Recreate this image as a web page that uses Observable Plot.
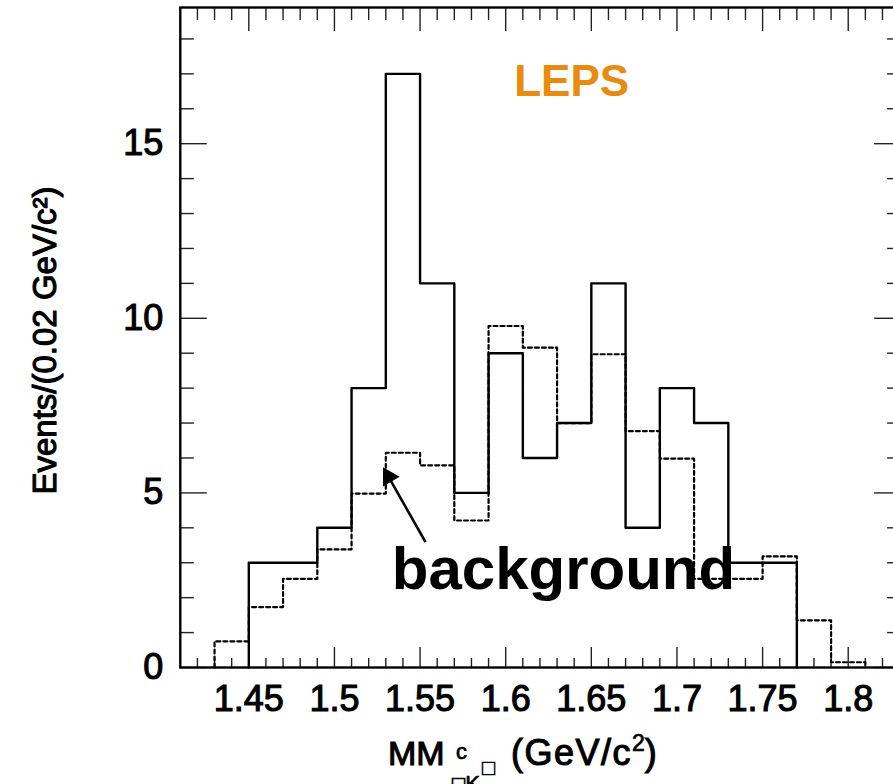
<!DOCTYPE html>
<html><head><meta charset="utf-8">
<script src="https://cdn.jsdelivr.net/npm/d3@7"></script>
<script src="https://cdn.jsdelivr.net/npm/@observablehq/plot@0.6"></script>
<style>
html,body{margin:0;padding:0;background:#fff;overflow:hidden;}
#chart{width:893px;height:784px;overflow:hidden;position:relative;}
#chart svg{max-width:none !important;}
</style></head><body><div id="chart"></div>
<script>
// ---- data ----
const binWidth = 0.02;
const dataBinLow = [1.45,1.47,1.49,1.51,1.53,1.55,1.57,1.59,1.61,1.63,1.65,1.67,1.69,1.71,1.73,1.75];
const dataCounts = [3,3,4,8,17,11,5,9,6,7,11,4,8,7,3,3];
const bgBinLow = [1.43,1.45,1.47,1.49,1.51,1.53,1.55,1.57,1.59,1.61,1.63,1.65,1.67,1.69,1.71,1.73,1.75,1.77,1.79];
const bgCounts = [0.75,1.73,2.54,3.38,4.98,6.15,5.79,4.21,9.78,9.16,7.0,8.97,6.77,5.98,2.54,2.54,3.18,1.35,0.15];

const xMajorTicks = [1.45,1.5,1.55,1.6,1.65,1.7,1.75,1.8];
const xMinorTicks = [1.42,1.43,1.44,1.46,1.47,1.48,1.49,1.51,1.52,1.53,1.54,1.56,1.57,1.58,1.59,1.61,1.62,1.63,1.64,1.66,1.67,1.68,1.69,1.71,1.72,1.73,1.74,1.76,1.77,1.78,1.79,1.81,1.82];
const yMajorTicks = [0,5,10,15];
const yMinorTicks = [1,2,3,4,6,7,8,9,11,12,13,14,16,17,18];

const xDomain = [1.41, 1.83];
const yDomain = [0, 18.9];

// annotations (data coordinates)
const lepsLabel = [{x: 1.6385, y: 16.76, text: "LEPS"}];
const bgLabel = [{x: 1.5335, y: 2.26, text: "background"}];
const arrowShaft = [{x1: 1.5532, y1: 3.59, x2: 1.5316, y2: 5.46}];
const arrowHead = [{x: 1.5316, y: 5.46}];

function steps(lows, counts) {
  const pts = [{x: lows[0], y: 0}];
  lows.forEach((x, i) => pts.push({x, y: counts[i]}));
  pts.push({x: lows[lows.length - 1] + binWidth, y: 0});
  return pts;
}

const FONT = "'Liberation Sans', Arial, Helvetica, sans-serif";
const blank = () => "";
const heavy = {stroke: "black", strokeWidth: 1.1};

const chart = Plot.plot({
  width: 905, height: 784,
  marginLeft: 179.8, marginRight: 5.9, marginTop: 7, marginBottom: 117,
  style: {fontFamily: FONT, fontSize: "36px", background: "white", color: "black", maxWidth: "none"},
  x: {domain: xDomain},
  y: {domain: yDomain},
  marks: [
    // tick marks (inward)
    Plot.axisX(xMinorTicks, {anchor: "bottom", tickSize: -9, tickFormat: blank, label: null, stroke: "#222", strokeWidth: 1.4}),
    Plot.axisX(xMajorTicks, {anchor: "bottom", tickSize: -20, tickFormat: blank, label: null, stroke: "#222", strokeWidth: 1.4}),
    Plot.axisX(xMinorTicks, {anchor: "top", tickSize: -12, tickFormat: blank, label: null, stroke: "#222", strokeWidth: 1.4}),
    Plot.axisX(xMajorTicks, {anchor: "top", tickSize: -23, tickFormat: blank, label: null, stroke: "#222", strokeWidth: 1.4}),
    Plot.axisY(yMinorTicks, {anchor: "left", tickSize: -14, tickFormat: blank, label: null, stroke: "#222", strokeWidth: 1.4}),
    Plot.axisY(yMajorTicks, {anchor: "left", tickSize: -27, tickFormat: blank, label: null, stroke: "#222", strokeWidth: 1.4}),
    Plot.axisY(yMinorTicks, {anchor: "right", tickSize: -13, tickFormat: blank, label: null, stroke: "#222", strokeWidth: 1.4}),
    Plot.axisY(yMajorTicks, {anchor: "right", tickSize: -26, tickFormat: blank, label: null, stroke: "#222", strokeWidth: 1.4}),
    // tick labels
    Plot.axisX(xMajorTicks, {anchor: "bottom", tickSize: 0, tickPadding: 18, label: null, fontSize: 36, tickFormat: d => String(d)}),
    Plot.axisY(yMajorTicks, {anchor: "left", tickSize: 0, tickPadding: 17, label: null, fontSize: 36}),
    // histograms
    Plot.line(steps(bgBinLow, bgCounts), {x: "x", y: "y", curve: "step-after", stroke: "black", strokeWidth: 2.2, strokeDasharray: "4,3"}),
    Plot.line(steps(dataBinLow, dataCounts), {x: "x", y: "y", curve: "step-after", stroke: "black", strokeWidth: 2.4}),
    Plot.frame({stroke: "black", strokeWidth: 2.4}),
    // y label
    Plot.text(["Events/(0.02 GeV/c²)"], {frameAnchor: "left", textAnchor: "middle", text: d => d, rotate: -90, dx: -135, dy: 3, fontSize: 33, fill: "black", ...heavy}),
    // annotations
    Plot.link(arrowShaft, {x1: "x1", y1: "y1", x2: "x2", y2: "y2", stroke: "black", strokeWidth: 2.6}),
    Plot.dot(arrowHead, {x: "x", y: "y", symbol: "triangle", r: 6.5, rotate: -30, fill: "black", stroke: "black", strokeWidth: 1}),
    Plot.text(bgLabel, {x: "x", y: "y", text: "text", textAnchor: "start", lineAnchor: "bottom", fontSize: 60, fontWeight: "bold", fill: "black"}),
    Plot.text(lepsLabel, {x: "x", y: "y", text: "text", fontSize: 44, fontWeight: "bold", fill: "#e98b0e"})
  ]
});
chart.style.maxWidth = "none";
document.getElementById("chart").appendChild(chart);

const svg = d3.select(chart);
// heavier tick labels (to match the raster weight of the reference)
svg.selectAll('g[aria-label="x-axis tick label"], g[aria-label="y-axis tick label"]')
  .attr("stroke", "black").attr("stroke-width", 1.1);

// x-axis title with super/subscripts
const t = svg.append("text")
  .attr("font-family", FONT).attr("fill", "black")
  .attr("text-anchor", "start")
  .attr("stroke", "black").attr("stroke-width", 1.1);
t.append("tspan").attr("x", 388).attr("y", 765).attr("font-size", 34).text("MM");
t.append("tspan").attr("x", 456).attr("y", 759).attr("font-size", 22).attr("stroke-width", 0.7).text("c");
t.append("tspan").attr("x", 452).attr("y", 791).attr("font-size", 22).attr("stroke-width", 0.7).text("□K");
t.append("tspan").attr("x", 482).attr("y", 775).attr("font-size", 22).attr("stroke-width", 0.5).text("□");
t.append("tspan").attr("x", 511).attr("y", 765).attr("font-size", 36).attr("letter-spacing", 1.5).text("(GeV/c");
t.append("tspan").attr("y", 751).attr("font-size", 23).attr("stroke-width", 0.7).text("2");
t.append("tspan").attr("y", 765).attr("font-size", 36).text(")");
</script>
</body></html>
